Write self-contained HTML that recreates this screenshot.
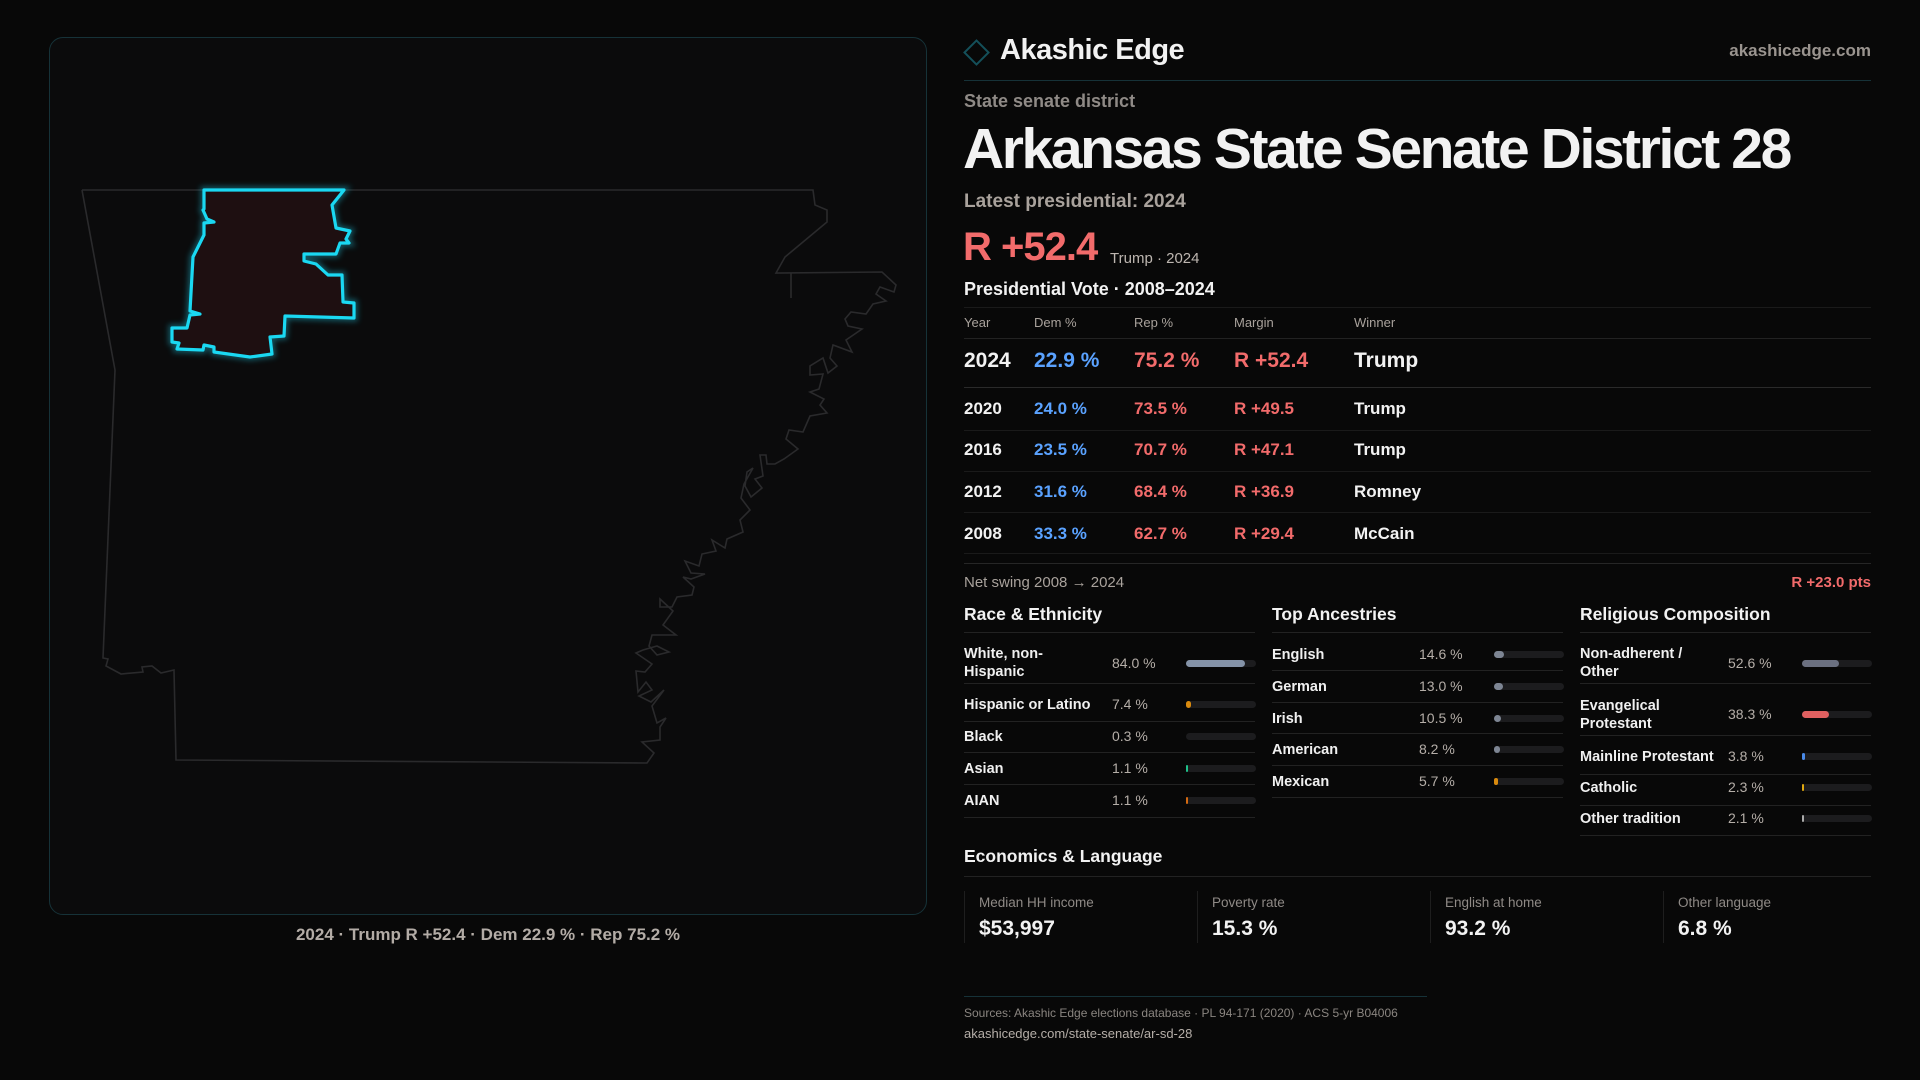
<!DOCTYPE html>
<html><head><meta charset="utf-8"><style>
*{margin:0;padding:0;box-sizing:border-box}
body{width:1920px;height:1080px;background:#080808;font-family:"Liberation Sans",sans-serif;color:#f2f2f2;position:relative;overflow:hidden}
.a{position:absolute;white-space:nowrap}
.g{color:#a9a29c}
.ln{position:absolute;height:1px;background:#222}
.r{color:#f26b6b}.b{color:#5aa2ff}
.bar{position:absolute;height:7px;border-radius:4px;background:#1c1c1e;width:70px}
.bar i{position:absolute;left:0;top:0;height:7px;border-radius:4px;display:block}
.lab{font-size:14.5px;font-weight:bold;color:#f0f0f0;line-height:18px}
.val{font-size:14px;color:#b5aea8}
</style></head><body>
<div style="position:absolute;left:49px;top:37px;width:878px;height:878px;border:1px solid #163238;border-radius:14px;background:#0b0b0c"></div>
<svg class="a" style="left:0;top:0" width="1920" height="1080">
<defs><filter id="gl" x="-20%" y="-20%" width="140%" height="140%"><feGaussianBlur stdDeviation="3"/></filter></defs>
<polyline fill="none" stroke="#2a2a2c" stroke-width="1.6" points="82,190 813,190 815,205 827,210 827,222 785,257 776,273 882,272 896,285 894,292 880,287 876,294 886,301 873,304 866,314 851,312 845,319 848,326 862,329 846,340 852,352 833,345 830,358 837,366 828,373 823,358 810,366 810,375 823,374 819,389 810,392 824,399 820,405 827,413 810,416 803,432 789,430 786,439 798,449 784,459 775,464 767,464 766,455 760,455 763,476 755,479 762,488 751,497 745,486 747,472 753,468 744,484 741,498 750,510 740,520 743,532 727,539 725,548 712,540 716,551 702,554 699,566 685,561 691,573 705,574 691,579 683,577 694,587 692,595 677,597 672,607 660,607 660,599 673,611 663,625 676,635 652,635 649,646 657,655 669,652 657,646 643,650 636,653 652,664 645,672 636,671 638,692 646,682 652,690 639,696 651,702 664,690 652,706 657,723 666,718 660,727 660,740 642,742 654,753 647,763 176,760 174,670 161,673 152,666 142,667 143,672 121,674 106,666 108,659 103,658 115,370 82,190"/>
<line x1="791" y1="273" x2="791" y2="298" stroke="#2a2a2c" stroke-width="1.6"/>
<g id="d"><polygon points="204,190 344,190 332,205 336,228 350,231 346,239 349,243 340,243 336,254 304,254 304,261 316,264 328,275 342,275 343,302 354,303 354,318 285,316 284,336 270,337 272,354 250,357 214,352 214,347 204,345 203,350 177,349 179,343 172,342 172,328 187,328 190,315 200,314 190,311 193,257 204,235 204,223 214,222 207,219 203,210 204,209"/></g>
<use href="#d" fill="none" stroke="#1bb8d0" stroke-width="7" opacity="0.45" filter="url(#gl)"/>
<use href="#d" fill="#1e0f11" stroke="#1ad8f2" stroke-width="3.2" stroke-linejoin="round"/>
<rect x="968" y="44" width="17" height="17" transform="rotate(45 976.5 52.5)" fill="none" stroke="#14505a" stroke-width="2"/>
</svg>
<div class="a g" style="left:0;width:976px;text-align:center;top:925px;font-size:17px;font-weight:bold;color:#b3aca6">2024 · Trump R +52.4 · Dem 22.9 % · Rep 75.2 %</div>

<div class="a" style="left:1000px;top:34px;font-size:29px;font-weight:bold;letter-spacing:-0.5px">Akashic Edge</div>
<div class="a g" style="right:49px;top:41px;font-size:17px;font-weight:bold;color:#9a948f">akashicedge.com</div>
<div class="ln" style="left:964px;width:907px;top:80px;background:#163238"></div>
<div class="a g" style="left:964px;top:91px;font-size:18px;font-weight:bold;color:#8f8a86">State senate district</div>
<div class="a" style="left:963px;top:116px;font-size:57px;font-weight:bold;letter-spacing:-2.4px">Arkansas State Senate District 28</div>
<div class="a g" style="left:964px;top:191px;font-size:19px;font-weight:bold">Latest presidential: 2024</div>
<div class="a r" style="left:963px;top:225px;font-size:40px;font-weight:bold;letter-spacing:-1px">R +52.4</div>
<div class="a g" style="left:1110px;top:250px;font-size:15px;color:#bdb6b0">Trump · 2024</div>
<div class="a" style="left:964px;top:279px;font-size:18px;font-weight:bold">Presidential Vote · 2008–2024</div>
<div class="ln" style="left:964px;width:907px;top:307px;background:#1a1a1a"></div>
<div class="a g" style="top:315px;left:964px;font-size:13px">Year</div>
<div class="a g" style="top:315px;left:1034px;font-size:13px">Dem %</div>
<div class="a g" style="top:315px;left:1134px;font-size:13px">Rep %</div>
<div class="a g" style="top:315px;left:1234px;font-size:13px">Margin</div>
<div class="a g" style="top:315px;left:1354px;font-size:13px">Winner</div>
<div class="ln" style="left:964px;width:907px;top:338px"></div>
<div style="font-weight:bold;font-size:21px">
<div class="a" style="top:349px;left:964px">2024</div><div class="a b" style="top:349px;left:1034px">22.9 %</div><div class="a r" style="top:349px;left:1134px">75.2 %</div><div class="a r" style="top:349px;left:1234px">R +52.4</div><div class="a" style="top:349px;left:1354px">Trump</div>
</div>
<div class="ln" style="left:964px;width:907px;top:387px;background:#2a2a2a"></div>
<div style="font-weight:bold;font-size:17px">
<div class="a" style="top:399px;left:964px">2020</div><div class="a b" style="top:399px;left:1034px">24.0 %</div><div class="a r" style="top:399px;left:1134px">73.5 %</div><div class="a r" style="top:399px;left:1234px">R +49.5</div><div class="a" style="top:399px;left:1354px">Trump</div>
<div class="a" style="top:440px;left:964px">2016</div><div class="a b" style="top:440px;left:1034px">23.5 %</div><div class="a r" style="top:440px;left:1134px">70.7 %</div><div class="a r" style="top:440px;left:1234px">R +47.1</div><div class="a" style="top:440px;left:1354px">Trump</div>
<div class="a" style="top:482px;left:964px">2012</div><div class="a b" style="top:482px;left:1034px">31.6 %</div><div class="a r" style="top:482px;left:1134px">68.4 %</div><div class="a r" style="top:482px;left:1234px">R +36.9</div><div class="a" style="top:482px;left:1354px">Romney</div>
<div class="a" style="top:524px;left:964px">2008</div><div class="a b" style="top:524px;left:1034px">33.3 %</div><div class="a r" style="top:524px;left:1134px">62.7 %</div><div class="a r" style="top:524px;left:1234px">R +29.4</div><div class="a" style="top:524px;left:1354px">McCain</div>
</div>
<div class="ln" style="left:964px;width:907px;top:430px;background:#1a1a1a"></div>
<div class="ln" style="left:964px;width:907px;top:471px;background:#1a1a1a"></div>
<div class="ln" style="left:964px;width:907px;top:512px;background:#1a1a1a"></div>
<div class="ln" style="left:964px;width:907px;top:553px;background:#1a1a1a"></div>
<div class="ln" style="left:964px;width:907px;top:563px;background:#262626"></div>
<div class="a g" style="left:964px;top:574px;font-size:15px">Net swing 2008 → 2024</div>
<div class="a r" style="right:49px;top:574px;font-size:15px;font-weight:bold">R +23.0 pts</div>

<div class="a" style="left:964px;top:604px;font-size:17.5px;font-weight:bold">Race &amp; Ethnicity</div>
<div class="a" style="left:1272px;top:604px;font-size:17.5px;font-weight:bold">Top Ancestries</div>
<div class="a" style="left:1580px;top:604px;font-size:17.5px;font-weight:bold">Religious Composition</div>
<div class="ln" style="left:964px;width:291px;top:632px"></div>
<div class="ln" style="left:1272px;width:291px;top:632px"></div>
<div class="ln" style="left:1580px;width:291px;top:632px"></div>

<div class="a lab" style="left:964px;top:645px">White, non-<br>Hispanic</div><div class="a val" style="left:1112px;top:655px">84.0 %</div><div class="bar" style="left:1186px;top:660px"><i style="width:59px;background:#8593a8"></i></div>
<div class="ln" style="left:964px;width:291px;top:683px"></div>
<div class="a lab" style="left:964px;top:696px">Hispanic or Latino</div><div class="a val" style="left:1112px;top:696px">7.4 %</div><div class="bar" style="left:1186px;top:701px"><i style="width:5px;background:#d98a0e"></i></div>
<div class="ln" style="left:964px;width:291px;top:721px"></div>
<div class="a lab" style="left:964px;top:728px">Black</div><div class="a val" style="left:1112px;top:728px">0.3 %</div><div class="bar" style="left:1186px;top:733px"></div>
<div class="ln" style="left:964px;width:291px;top:752px"></div>
<div class="a lab" style="left:964px;top:760px">Asian</div><div class="a val" style="left:1112px;top:760px">1.1 %</div><div class="bar" style="left:1186px;top:765px"><i style="width:2px;background:#1fc08a"></i></div>
<div class="ln" style="left:964px;width:291px;top:784px"></div>
<div class="a lab" style="left:964px;top:792px">AIAN</div><div class="a val" style="left:1112px;top:792px">1.1 %</div><div class="bar" style="left:1186px;top:797px"><i style="width:2px;background:#d46a12"></i></div>
<div class="ln" style="left:964px;width:291px;top:817px"></div>

<div class="a lab" style="left:1272px;top:646px">English</div><div class="a val" style="left:1419px;top:646px">14.6 %</div><div class="bar" style="left:1494px;top:651px"><i style="width:10px;background:#7d8593"></i></div>
<div class="ln" style="left:1272px;width:291px;top:670px"></div>
<div class="a lab" style="left:1272px;top:678px">German</div><div class="a val" style="left:1419px;top:678px">13.0 %</div><div class="bar" style="left:1494px;top:683px"><i style="width:9px;background:#7d8593"></i></div>
<div class="ln" style="left:1272px;width:291px;top:702px"></div>
<div class="a lab" style="left:1272px;top:710px">Irish</div><div class="a val" style="left:1419px;top:710px">10.5 %</div><div class="bar" style="left:1494px;top:715px"><i style="width:7px;background:#7d8593"></i></div>
<div class="ln" style="left:1272px;width:291px;top:733px"></div>
<div class="a lab" style="left:1272px;top:741px">American</div><div class="a val" style="left:1419px;top:741px">8.2 %</div><div class="bar" style="left:1494px;top:746px"><i style="width:6px;background:#7d8593"></i></div>
<div class="ln" style="left:1272px;width:291px;top:765px"></div>
<div class="a lab" style="left:1272px;top:773px">Mexican</div><div class="a val" style="left:1419px;top:773px">5.7 %</div><div class="bar" style="left:1494px;top:778px"><i style="width:4px;background:#d98a0e"></i></div>
<div class="ln" style="left:1272px;width:291px;top:797px"></div>

<div class="a lab" style="left:1580px;top:645px">Non-adherent /<br>Other</div><div class="a val" style="left:1728px;top:655px">52.6 %</div><div class="bar" style="left:1802px;top:660px"><i style="width:37px;background:#6b7080"></i></div>
<div class="ln" style="left:1580px;width:291px;top:683px"></div>
<div class="a lab" style="left:1580px;top:697px">Evangelical<br>Protestant</div><div class="a val" style="left:1728px;top:706px">38.3 %</div><div class="bar" style="left:1802px;top:711px"><i style="width:27px;background:#e06060"></i></div>
<div class="ln" style="left:1580px;width:291px;top:735px"></div>
<div class="a lab" style="left:1580px;top:748px">Mainline Protestant</div><div class="a val" style="left:1728px;top:748px">3.8 %</div><div class="bar" style="left:1802px;top:753px"><i style="width:3px;background:#4a8ae8"></i></div>
<div class="ln" style="left:1580px;width:291px;top:774px"></div>
<div class="a lab" style="left:1580px;top:779px">Catholic</div><div class="a val" style="left:1728px;top:779px">2.3 %</div><div class="bar" style="left:1802px;top:784px"><i style="width:2px;background:#e0a810"></i></div>
<div class="ln" style="left:1580px;width:291px;top:805px"></div>
<div class="a lab" style="left:1580px;top:810px">Other tradition</div><div class="a val" style="left:1728px;top:810px">2.1 %</div><div class="bar" style="left:1802px;top:815px"><i style="width:2px;background:#aaa"></i></div>
<div class="ln" style="left:1580px;width:291px;top:835px"></div>

<div class="a" style="left:964px;top:846px;font-size:17.5px;font-weight:bold">Economics &amp; Language</div>
<div class="ln" style="left:964px;width:907px;top:876px"></div>
<div class="a" style="left:964px;top:891px;width:1px;height:52px;background:#1e1e1e"></div>
<div class="a" style="left:1197px;top:891px;width:1px;height:52px;background:#1e1e1e"></div>
<div class="a" style="left:1430px;top:891px;width:1px;height:52px;background:#1e1e1e"></div>
<div class="a" style="left:1663px;top:891px;width:1px;height:52px;background:#1e1e1e"></div>
<div class="a g" style="left:979px;top:895px;font-size:13.5px;color:#8f8a86">Median HH income</div>
<div class="a g" style="left:1212px;top:895px;font-size:13.5px;color:#8f8a86">Poverty rate</div>
<div class="a g" style="left:1445px;top:895px;font-size:13.5px;color:#8f8a86">English at home</div>
<div class="a g" style="left:1678px;top:895px;font-size:13.5px;color:#8f8a86">Other language</div>
<div class="a" style="left:979px;top:917px;font-size:21px;font-weight:bold">$53,997</div>
<div class="a" style="left:1212px;top:917px;font-size:21px;font-weight:bold">15.3 %</div>
<div class="a" style="left:1445px;top:917px;font-size:21px;font-weight:bold">93.2 %</div>
<div class="a" style="left:1678px;top:917px;font-size:21px;font-weight:bold">6.8 %</div>

<div class="ln" style="left:964px;width:463px;top:996px;background:#163238"></div>
<div class="a" style="left:964px;top:1006px;font-size:12px;color:#8a8580">Sources: Akashic Edge elections database · PL 94-171 (2020) · ACS 5-yr B04006</div>
<div class="a" style="left:964px;top:1026px;font-size:13px;color:#b5aea8">akashicedge.com/state-senate/ar-sd-28</div>
</body></html>
